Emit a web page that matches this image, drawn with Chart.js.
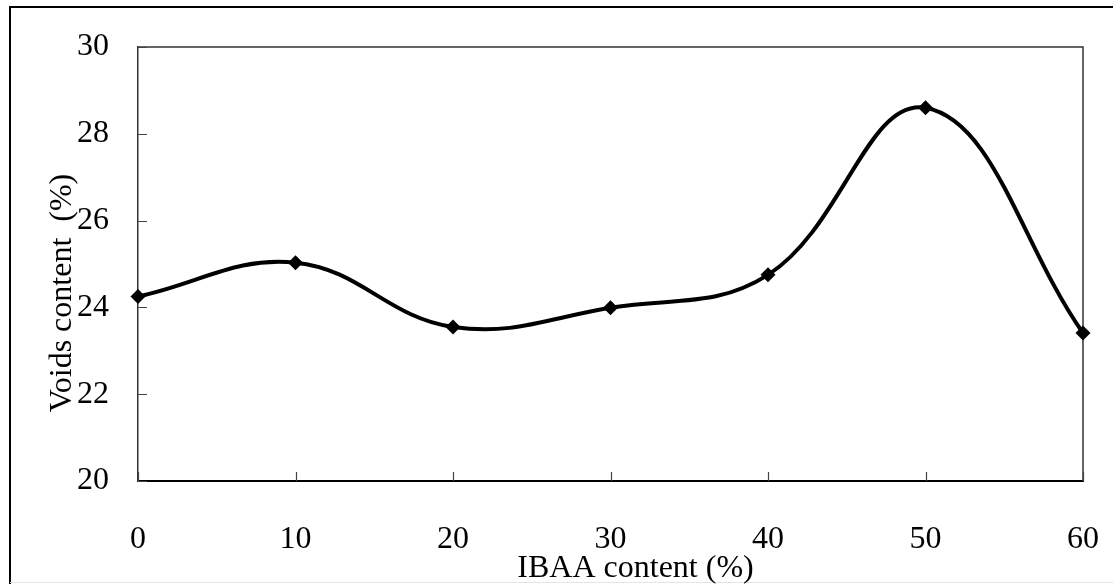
<!DOCTYPE html>
<html>
<head>
<meta charset="utf-8">
<script src="https://cdn.jsdelivr.net/npm/chart.js@4.4.1/dist/chart.umd.min.js"></script>
<style>
  html, body { margin: 0; padding: 0; background: #fff; }
  #wrap { width: 1113px; height: 584px; position: relative; }
</style>
</head>
<body>
<div id="wrap"><canvas id="voidsChart" width="1113" height="584"></canvas></div>
<script>
// IBAA content (%) vs voids content (%)
const ibaaContent = [0, 10, 20, 30, 40, 50, 60];
const voidsContent = [24.25, 25.03, 23.55, 23.99, 24.75, 28.6, 23.41];
const xTickValues = [0, 10, 20, 30, 40, 50, 60];
const yTickValues = [20, 22, 24, 26, 28, 30];

const serif = "'Liberation Serif', 'Times New Roman', serif";
const fontSize = 32;

// frame around the figure, box around the plot, inward tick marks and axis titles
const figurePlugin = {
    id: "figureDecor",
    beforeDraw(chart) {
        const ctx = chart.ctx;
        ctx.save();
        ctx.fillStyle = "#fff";
        ctx.fillRect(0, 0, chart.width, chart.height);
        ctx.strokeStyle = "#000";
        ctx.lineWidth = 2;
        ctx.beginPath();
        ctx.moveTo(10, chart.height);
        ctx.lineTo(10, 7);
        ctx.lineTo(chart.width, 7);
        ctx.stroke();
        ctx.strokeStyle = "#e4e4e4";
        ctx.lineWidth = 1;
        ctx.beginPath();
        ctx.moveTo(10, chart.height - 1.5);
        ctx.lineTo(chart.width, chart.height - 1.5);
        ctx.stroke();
        ctx.restore();
    },
    beforeDatasetsDraw(chart) {
        const ctx = chart.ctx;
        const area = chart.chartArea;
        const xs = chart.scales.x;
        const ys = chart.scales.y;
        ctx.save();
        // top and right edges of the plot box
        ctx.strokeStyle = "#333";
        ctx.lineWidth = 1.5;
        ctx.beginPath();
        ctx.moveTo(area.left, area.top);
        ctx.lineTo(area.right, area.top);
        ctx.lineTo(area.right, area.bottom);
        ctx.stroke();
        // inward ticks
        ctx.strokeStyle = "#444";
        ctx.lineWidth = 1.2;
        ctx.beginPath();
        yTickValues.forEach(v => {
            const y = Math.round(ys.getPixelForValue(v)) + 0.5;
            ctx.moveTo(area.left, y);
            ctx.lineTo(area.left + 9, y);
        });
        xTickValues.forEach(v => {
            const x = Math.round(xs.getPixelForValue(v)) + 0.5;
            ctx.moveTo(x, area.bottom);
            ctx.lineTo(x, area.bottom - 9);
        });
        ctx.stroke();
        ctx.restore();
    },
    afterDraw(chart) {
        const ctx = chart.ctx;
        const area = chart.chartArea;
        ctx.save();
        ctx.fillStyle = "#000";
        ctx.font = fontSize + "px " + serif;
        ctx.textAlign = "center";
        ctx.textBaseline = "alphabetic";
        // x axis title
        ctx.fillText("IBAA content (%)", (area.left + area.right) / 2 + 25, area.bottom + 96);
        // y axis title
        ctx.translate(71, (area.top + area.bottom) / 2 + 29);
        ctx.rotate(-Math.PI / 2);
        ctx.fillText("Voids content  (%)", 0, 0);
        ctx.restore();
    }
};

new Chart(document.getElementById("voidsChart"), {
    type: "line",
    data: {
        datasets: [{
            label: "Voids content",
            data: ibaaContent.map((x, i) => ({ x: x, y: voidsContent[i] })),
            borderColor: "#000",
            backgroundColor: "#000",
            borderWidth: 4,
            tension: 0.4,
            fill: false,
            pointStyle: "rectRot",
            pointRadius: 7.5,
            pointBorderWidth: 0,
            pointBackgroundColor: "#000",
            clip: false
        }]
    },
    options: {
        responsive: false,
        animation: false,
        devicePixelRatio: 1,
        layout: { padding: { left: 0, top: 47, right: 30, bottom: 0 } },
        plugins: {
            legend: { display: false },
            tooltip: { enabled: false },
            title: { display: false }
        },
        scales: {
            x: {
                type: "linear",
                min: 0,
                max: 60,
                afterBuildTicks: scale => { scale.ticks = xTickValues.map(v => ({ value: v })); },
                afterFit: scale => {
                    scale.height = 103;
                    scale.paddingLeft = 0;
                    scale.paddingRight = 0;
                },
                grid: { display: false, drawTicks: false },
                border: { display: true, color: "#000", width: 2 },
                ticks: {
                    color: "#000",
                    padding: 39,
                    maxRotation: 0,
                    autoSkip: false,
                    font: { family: serif, size: fontSize }
                }
            },
            y: {
                min: 20,
                max: 30,
                afterBuildTicks: scale => { scale.ticks = yTickValues.map(v => ({ value: v })); },
                afterFit: scale => {
                    scale.width = 138;
                    scale.paddingTop = 0;
                    scale.paddingBottom = 0;
                },
                grid: { display: false, drawTicks: false },
                border: { display: true, color: "#333", width: 1.5 },
                ticks: {
                    color: "#000",
                    padding: 29,
                    font: { family: serif, size: fontSize }
                }
            }
        }
    },
    plugins: [figurePlugin]
});
</script>
</body>
</html>
